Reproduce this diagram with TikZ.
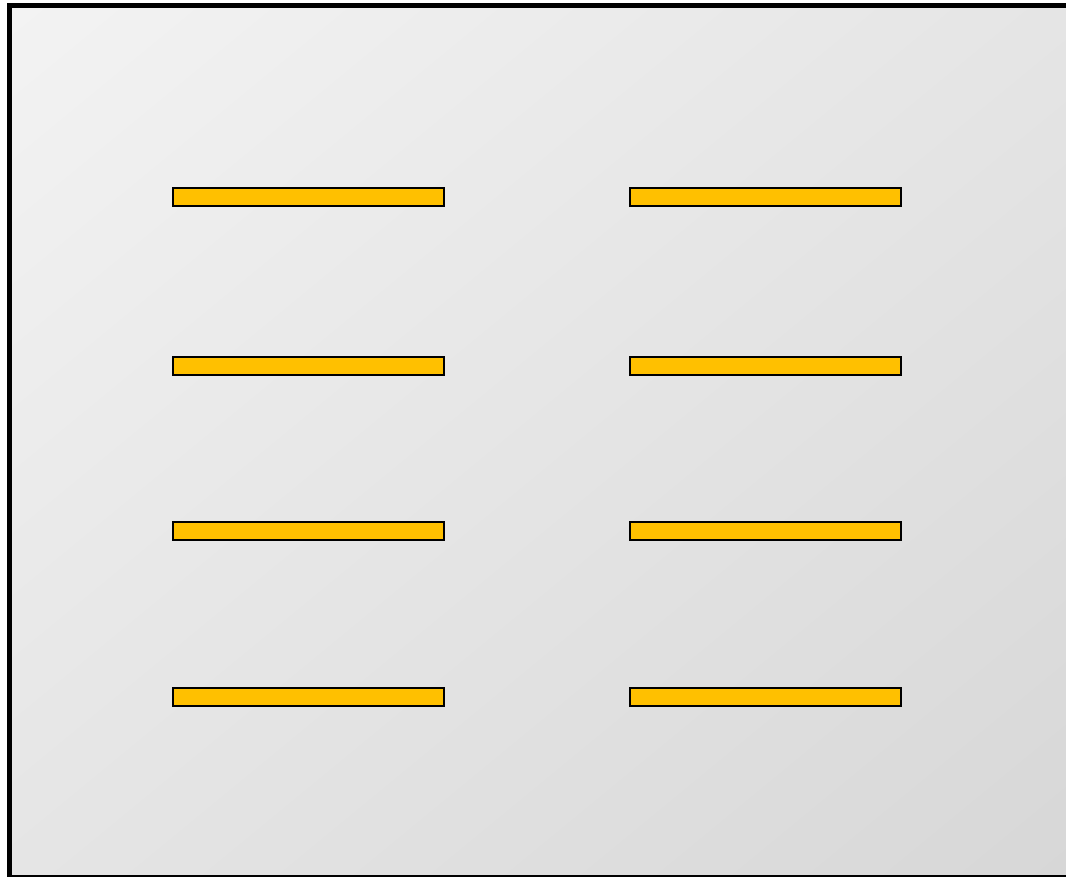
\documentclass[tikz,border=0pt]{standalone}
\usepackage{tikz}
\usetikzlibrary{shadings}
\definecolor{bgA}{RGB}{243,243,243}
\definecolor{bgB}{RGB}{215,215,215}
\definecolor{barfill}{RGB}{255,192,0}
\tikzset{
  bar/.style={draw=black, fill=barfill, line width=2pt, inner sep=0pt, minimum width=271pt, minimum height=18pt, rectangle},
  frame/.style={draw=black, line width=5pt}
}
\begin{document}
\begin{tikzpicture}[x=1pt,y=1pt]
\useasboundingbox (0,0) rectangle (1066,-876);
\clip (0,0) rectangle (1066,-876);
\shade[upper left=bgA, lower right=bgB, upper right=bgA!50!bgB, lower left=bgA!50!bgB] (9.5,-5.5) rectangle (1068.5,-877);
\draw[frame] (9.5,-5.5) rectangle (1068.5,-877.5);
\node[bar] (l1) at (308.5,-197) {};
\node[bar] (l2) at (308.5,-366) {};
\node[bar] (l3) at (308.5,-531) {};
\node[bar] (l4) at (308.5,-697) {};
\node[bar] (r1) at (765.5,-197) {};
\node[bar] (r2) at (765.5,-366) {};
\node[bar] (r3) at (765.5,-531) {};
\node[bar] (r4) at (765.5,-697) {};
\end{tikzpicture}
\end{document}
